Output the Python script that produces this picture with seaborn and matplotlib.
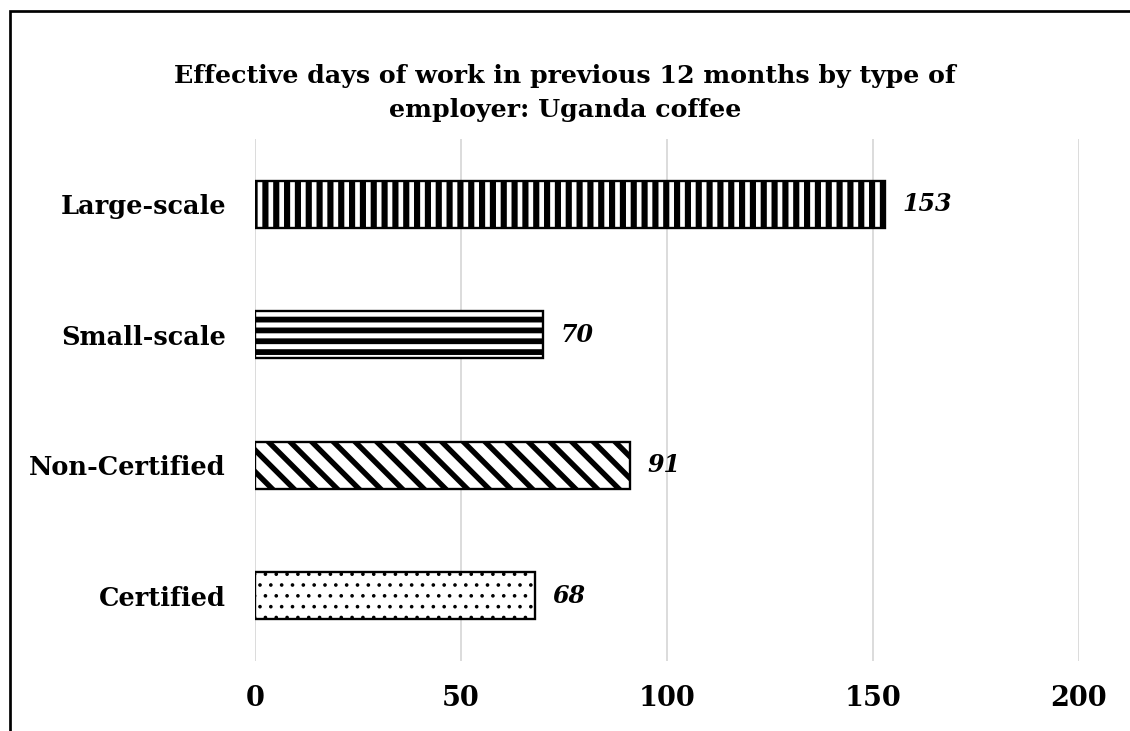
import matplotlib
matplotlib.use("Agg")
import matplotlib.pyplot as plt
import seaborn as sns
import pandas as pd
from matplotlib.patches import Rectangle

# Chart data
categories = ["Large-scale", "Small-scale", "Non-Certified", "Certified"]
days = [153, 70, 91, 68]
hatches = ["||", "--", "\\\\", ".."]
hatch_widths = [3.4, 3.2, 3.0, 0.8]
x_ticks = [0, 50, 100, 150, 200]

sns.set_style("white")
plt.rcParams["font.family"] = ["DejaVu Serif"]
plt.rcParams["text.color"] = "black"
plt.rcParams["xtick.color"] = "black"
plt.rcParams["ytick.color"] = "black"
plt.rcParams["hatch.linewidth"] = 3.2

DPI = 130
fig = plt.figure(figsize=(1130 / DPI, 731 / DPI), dpi=DPI)
ax = fig.add_axes([255 / 1130, 1 - 661 / 731, (1079 - 255) / 1130, (661 - 139) / 731])

df = pd.DataFrame({"category": categories, "days": days})
sns.barplot(data=df, x="days", y="category", orient="h", color="white",
            edgecolor="black", linewidth=1.3, width=0.36, ax=ax)

for bar, h, hw in zip(ax.patches, hatches, hatch_widths):
    bar.set_facecolor("white")
    bar.set_hatch(h)
    if hasattr(bar, "set_hatch_linewidth"):
        bar.set_hatch_linewidth(hw)

# Value labels
for i, v in enumerate(days):
    ax.text(v + 4.2, i, str(v), va="center", ha="left", fontsize=13.2,
            fontweight="bold", fontstyle="italic", color="black")

ax.set_xlim(0, 200)
ax.set_ylim(3.5, -0.5)
ax.set_xticks(x_ticks)
ax.set_xticklabels([str(t) for t in x_ticks], fontsize=15, fontweight="bold")
ax.tick_params(axis="x", length=0, pad=13.5)
ax.tick_params(axis="y", length=0, pad=16, labelsize=14.2)
for lbl in ax.get_yticklabels():
    lbl.set_fontweight("bold")
ax.set_xlabel("")
ax.set_ylabel("")
ax.grid(axis="x", color="#d9d9d9", linewidth=1.0)
ax.set_axisbelow(True)
for s in ax.spines.values():
    s.set_visible(False)

fig.text(0.5, 1 - 93 / 731,
         "Effective days of work in previous 12 months by type of\nemployer: Uganda coffee",
         ha="center", va="center", fontsize=14, fontweight="bold", linespacing=1.55)

# Outer chart frame (cropped at the bottom and right)
frame = Rectangle((9.5 / 1130, -0.1), 1.2, 1 - 11 / 731 + 0.1, transform=fig.transFigure,
                  fill=False, edgecolor="black", linewidth=1.5, clip_on=False)
fig.patches.append(frame)

fig.savefig("out.png", dpi=DPI)
